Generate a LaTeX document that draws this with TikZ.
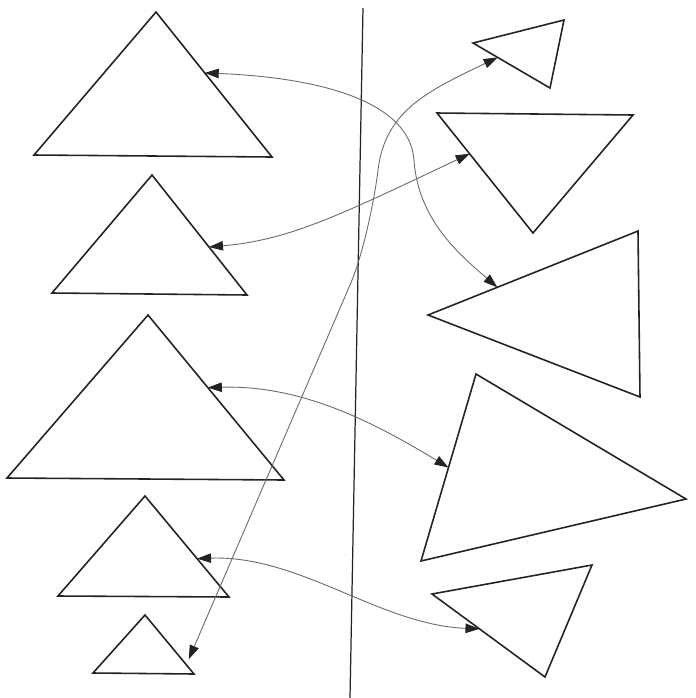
\documentclass[tikz,border=0pt]{standalone}
\usepackage{tikz}
\usetikzlibrary{arrows.meta, calc}
\definecolor{inkgray}{RGB}{35,35,35}
\definecolor{linkgray}{RGB}{105,105,105}

\begin{document}
\begin{tikzpicture}[
  x=0.02cm, y=-0.02cm,
  tri/.style={draw=inkgray, line width=0.9pt, line join=miter},
  tip/.tip={Triangle[length=2.8mm,width=1.9mm,color=inkgray]},
  link/.style={draw=linkgray, line width=0.5pt, tip-tip}
]
  \useasboundingbox (0,0) rectangle (696,698);

  % left column
  \coordinate (l1t) at (156,12);  \coordinate (l1l) at (34,155);  \coordinate (l1r) at (272,157);
  \coordinate (l2t) at (152,175); \coordinate (l2l) at (52,293);  \coordinate (l2r) at (247,295);
  \coordinate (l3t) at (148,315); \coordinate (l3l) at (7,478);   \coordinate (l3r) at (284,480);
  \coordinate (l4t) at (145,496); \coordinate (l4l) at (58,596);  \coordinate (l4r) at (229,597);
  \coordinate (l5t) at (145,615); \coordinate (l5l) at (93,673);  \coordinate (l5r) at (194,674);

  % right column
  \coordinate (r1a) at (473,43);  \coordinate (r1b) at (564,20);  \coordinate (r1c) at (550,88);
  \coordinate (r2a) at (437,113); \coordinate (r2b) at (633,115); \coordinate (r2c) at (533,233);
  \coordinate (r3a) at (428,315); \coordinate (r3b) at (638,231); \coordinate (r3c) at (640,397);
  \coordinate (r4a) at (476,374); \coordinate (r4b) at (686,499); \coordinate (r4c) at (421,561);
  \coordinate (r5a) at (432,594); \coordinate (r5b) at (592,565); \coordinate (r5c) at (545,677);

  \foreach \t in {l1,l2,l3,l4,l5}
    \draw[tri] (\t t) -- (\t l) -- (\t r) -- cycle;
  \foreach \t in {r1,r2,r3,r4,r5}
    \draw[tri] (\t a) -- (\t b) -- (\t c) -- cycle;

  % divider
  \coordinate (divtop) at (363,8);
  \coordinate (divbot) at (350,698);
  \draw[inkgray, line width=0.7pt] (divtop) -- (divbot);

  % link ends on the edges
  \coordinate (e1l) at ($(l1t)!0.42!(l1r)$);
  \coordinate (e1r) at ($(r3a)!0.33!(r3b)$);
  \coordinate (e2l) at ($(l2t)!0.6!(l2r)$);
  \coordinate (e2r) at ($(r2a)!0.34!(r2c)$);
  \coordinate (e3r) at ($(r1a)!0.32!(r1c)$);
  \coordinate (e3l) at ($(l5t)!0.75!(l5r)+(7,0)$);
  \coordinate (e4l) at ($(l3t)!0.44!(l3r)$);
  \coordinate (e4r) at ($(r4a)!0.5!(r4c)$);
  \coordinate (e5l) at ($(l4t)!0.62!(l4r)$);
  \coordinate (e5r) at ($(r5a)!0.42!(r5c)$);

  \draw[link] (e1l) .. controls (330,78) and (410,105) .. (414,160)
                    .. controls (418,220) and (460,255) .. (e1r);
  \draw[link] (e2l) .. controls (290,240) and (340,215) .. (e2r);
  \draw[link] (e3r) .. controls (430,90) and (385,110) .. (378,170)
                    .. controls (374.5,200) and (363,255) .. (350,285) -- (e3l);
  \draw[link] (e4l) .. controls (300,385) and (370,420) .. (e4r);
  \draw[link] (e5l) .. controls (300,555) and (380,625) .. (e5r);
\end{tikzpicture}
\end{document}
